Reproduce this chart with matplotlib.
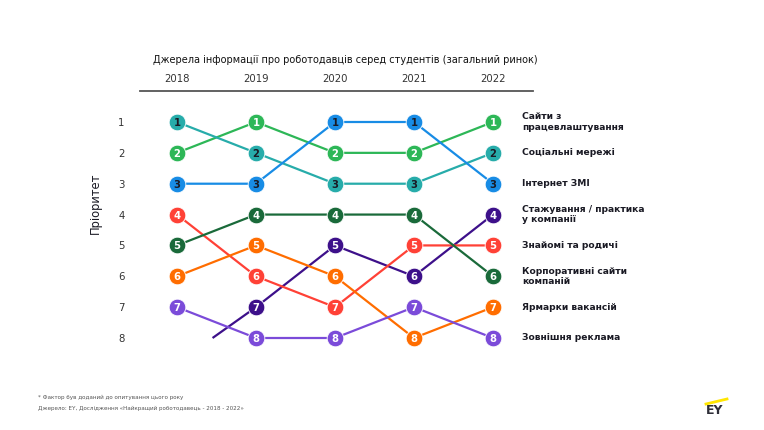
import matplotlib
matplotlib.use("Agg")

import matplotlib.pyplot as plt
from matplotlib.lines import Line2D

# data: rank per year for each source (1 = most important)
years = [2018, 2019, 2020, 2021, 2022]
sources = [
    "Сайти з\nпрацевлаштування",
    "Соціальні мережі",
    "Інтернет ЗМІ",
    "Стажування / практика\nу компанії",
    "Знайомі та родичі",
    "Корпоративні сайти\nкомпаній",
    "Ярмарки вакансій",
    "Зовнішня реклама",
]
ranks_sites = [2, 1, 2, 2, 1]
ranks_social = [1, 2, 3, 3, 2]
ranks_media = [3, 3, 1, 1, 3]
ranks_intern = [None, 7, 5, 6, 4]   # factor added in 2019
ranks_friends = [4, 6, 7, 5, 5]
ranks_corporate = [5, 4, 4, 4, 6]
ranks_fairs = [6, 5, 6, 8, 7]
ranks_ads = [7, 8, 8, 7, 8]
intern_stub = (2018.45, 8)          # where the new-factor line starts

all_ranks = [ranks_sites, ranks_social, ranks_media, ranks_intern,
             ranks_friends, ranks_corporate, ranks_fairs, ranks_ads]
colors = ["#2DB757", "#27ACAA", "#188CE5", "#3D108A",
          "#FF4136", "#1A6A3A", "#FF6D00", "#7B4BD9"]
num_colors = ["white", "#1A1A24", "#1A1A24", "white",
              "white", "white", "white", "white"]

fig = plt.figure(figsize=(7.64, 4.30), dpi=100)
W, H = 764, 430
ax = fig.add_axes([140 / W, 1 - 350 / H, 393 / W, (350 - 91) / H])

px_year = (493 - 177) / 4
px_rank = (338 - 122) / 7
ax.set_xlim(2018 - (177 - 140) / px_year, 2022 + (533 - 493) / px_year)
ax.set_ylim(8 + (350 - 338) / px_rank, 1 - (122 - 91) / px_rank)

for ranks, col, ncol in zip(all_ranks, colors, num_colors):
    xs = [y for y, r in zip(years, ranks) if r is not None]
    ys = [r for r in ranks if r is not None]
    lx, ly = list(xs), list(ys)
    if ranks is ranks_intern:
        lx = [intern_stub[0]] + lx
        ly = [intern_stub[1]] + ly
    ax.plot(lx, ly, color=col, lw=1.6, zorder=2, solid_capstyle="butt")
    ax.plot(xs, ys, "o", color=col, ms=12, mec="white", mew=0.6, zorder=3)
    for x, r in zip(xs, ys):
        ax.text(x, r, str(r), ha="center", va="center_baseline", fontsize=7.2,
                fontweight="bold", color=ncol, zorder=4)

# labels on the right, next to the 2022 position
for ranks, name in zip(all_ranks, sources):
    ax.text(2022 + (522 - 493) / px_year, ranks[-1], name, ha="left", va="center",
            fontsize=6.6, fontweight="bold", color="#1A1A24", linespacing=1.15,
            clip_on=False)

ax.set_xticks(years)
ax.set_xticklabels([str(y) for y in years])
ax.xaxis.tick_top()
ax.tick_params(axis="x", length=0, pad=4.8, labelsize=7.3, labelcolor="#333333")
ax.set_yticks(range(1, 9))
ax.tick_params(axis="y", length=0, pad=11, labelsize=7.3, labelcolor="#333333")

for s in ["left", "right", "bottom"]:
    ax.spines[s].set_visible(False)
ax.spines["top"].set_color("#555555")
ax.spines["top"].set_linewidth(1.3)

fig.text(153 / W, 1 - 60 / H, "Джерела інформації про роботодавців серед студентів (загальний ринок)",
         ha="left", va="center", fontsize=7.0, color="#111111")
fig.text(95 / W, 1 - 203 / H, "Пріоритет", rotation=90, ha="center", va="center",
         fontsize=8.3, color="#1A1A24")

fig.text(38 / W, 1 - 397 / H, "* Фактор був доданий до опитування цього року",
         fontsize=4.1, color="#555555", va="center")
fig.text(38 / W, 1 - 408 / H, "Джерело: EY, Дослідження «Найкращий роботодавець - 2018 - 2022»",
         fontsize=4.1, color="#555555", va="center")

# EY logo
fig.text(715 / W, 1 - 411 / H, "EY", ha="center", va="center", fontsize=9,
         fontweight="bold", color="#2E2E38")
fig.add_artist(Line2D([706 / W, 727 / W], [1 - 404 / H, 1 - 399 / H],
                      color="#FFE600", lw=2.0))

fig.savefig("out.png", dpi=100)
